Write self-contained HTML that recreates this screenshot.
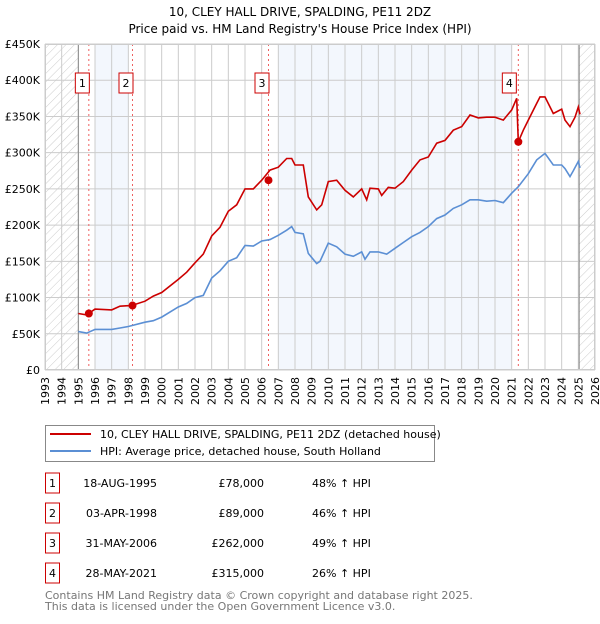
<!DOCTYPE html>
<html><head><meta charset="utf-8"><style>
body{margin:0;background:#fff;font-family:"DejaVu Sans","Liberation Sans",sans-serif;}
svg text{font-family:"DejaVu Sans","Liberation Sans",sans-serif;}
</style></head><body>
<svg id="c" width="600" height="620" xmlns="http://www.w3.org/2000/svg">
<defs><pattern id="hatch" width="6" height="6" patternUnits="userSpaceOnUse" patternTransform="rotate(45)"><line x1="0" y1="0" x2="0" y2="6" stroke="#ccc" stroke-width="1"/></pattern></defs>
<text x="300" y="16" text-anchor="middle" font-size="12">10, CLEY HALL DRIVE, SPALDING, PE11 2DZ</text>
<text x="300" y="33" text-anchor="middle" font-size="12">Price paid vs. HM Land Registry's House Price Index (HPI)</text>
<g id="plot"></g>
<g>
<rect x="45.5" y="425.5" width="389" height="36" fill="#fff" stroke="#888"/>
<line x1="50" y1="434" x2="91" y2="434" stroke="#cc0000" stroke-width="2"/>
<text x="100" y="438" font-size="11">10, CLEY HALL DRIVE, SPALDING, PE11 2DZ (detached house)</text>
<line x1="50" y1="451" x2="91" y2="451" stroke="#5b8fd4" stroke-width="2"/>
<text x="100" y="455" font-size="11">HPI: Average price, detached house, South Holland</text>
</g>
<g id="table" font-size="11"></g>
<text x="45" y="599" font-size="11" fill="#777">Contains HM Land Registry data © Crown copyright and database right 2025.</text>
<text x="45" y="610" font-size="11" fill="#777">This data is licensed under the Open Government Licence v3.0.</text>
</svg>
<script>
const years=[1993,1994,1995,1996,1997,1998,1999,2000,2001,2002,2003,2004,2005,2006,2007,2008,2009,2010,2011,2012,2013,2014,2015,2016,2017,2018,2019,2020,2021,2022,2023,2024,2025,2026];
const yTicks=[0,50,100,150,200,250,300,350,400,450];
const yTickLabels=["£0","£50K","£100K","£150K","£200K","£250K","£300K","£350K","£400K","£450K"];
const hpiT=[1995.0,1995.5,1996,1997,1997.5,1998,1999,1999.5,2000,2001,2001.5,2002,2002.5,2003,2003.5,2004,2004.5,2005,2005.5,2006,2006.5,2007,2007.5,2007.8,2008,2008.5,2008.8,2009.3,2009.5,2010,2010.5,2011,2011.5,2012,2012.2,2012.5,2013,2013.5,2014,2014.5,2015,2015.5,2016,2016.5,2017,2017.5,2018,2018.5,2019,2019.5,2020,2020.5,2021,2021.4,2022,2022.5,2023,2023.5,2024,2024.2,2024.5,2024.7,2025,2025.1];
const hpiV=[53,51,56,56,58,60,66,68,73,87,92,100,103,127,137,150,155,172,171,178,180,186,193,198,190,188,161,147,150,175,170,160,157,163,153,163,163,160,168,176,184,190,198,209,214,223,228,235,235,233,234,231,244,253,271,290,299,283,283,278,267,275,288,279];
const ppT=[1995.0,1995.5,1996,1997,1997.5,1998.2,1999,1999.5,2000,2001,2001.5,2002,2002.5,2003,2003.5,2004,2004.5,2005,2005.5,2006,2006.5,2007,2007.5,2007.8,2008,2008.5,2008.8,2009.3,2009.6,2010,2010.5,2011,2011.5,2012,2012.3,2012.5,2013,2013.2,2013.6,2014,2014.5,2015,2015.5,2016,2016.5,2017,2017.5,2018,2018.5,2019,2019.5,2020,2020.5,2021,2021.3,2021.4,2021.7,2022,2022.5,2022.7,2023,2023.5,2024,2024.2,2024.5,2024.8,2025,2025.1];
const ppV=[78,76,84,83,88,89,95,102,107,125,135,148,160,185,197,219,228,250,250,262,276,280,292,292,283,283,239,221,228,260,262,248,239,250,235,251,250,241,252,251,260,276,290,294,313,317,331,336,352,348,349,349,345,359,375,315,331,345,368,377,377,354,360,345,336,349,363,353];
const saleLabels=["1","2","3","4"];
const saleT=[1995.63,1998.25,2006.41,2021.4];
const saleV=[78,89,262,315];
const saleDates=["18-AUG-1995","03-APR-1998","31-MAY-2006","28-MAY-2021"];
const salePrices=["£78,000","£89,000","£262,000","£315,000"];
const salePct=["48% ↑ HPI","46% ↑ HPI","49% ↑ HPI","26% ↑ HPI"];
const L=45,R=595,T=44,B=370;
const xs=t=>L+(t-1993)/(2026-1993)*(R-L);
const ys=v=>B-v/450*(B-T);
const NS="http://www.w3.org/2000/svg";
const g=document.getElementById('plot');
function mk(tag,attrs,parent){const e=document.createElementNS(NS,tag);for(const k in attrs)e.setAttribute(k,attrs[k]);(parent||g).appendChild(e);return e;}
// shaded bands
let e=mk('rect',{x:xs(1996),y:T,width:xs(1998)-xs(1996),height:B-T,fill:'#eef3fc',opacity:0.7});


e=mk('rect',{x:xs(2007),y:T,width:xs(2021)-xs(2007),height:B-T,fill:'#eef3fc',opacity:0.7});


// hatch
e=mk('rect',{x:L,y:T,width:xs(1995)-L,height:B-T,fill:'url(#hatch)'});


e=mk('rect',{x:xs(2025.05),y:T,width:R-xs(2025.05),height:B-T,fill:'url(#hatch)'});


// grid
years.forEach(y=>{const l=mk('line',{x1:xs(y),x2:xs(y),y1:T,y2:B,stroke:'#ccc','stroke-width':1});


const t=mk('text',{x:0,y:0,'font-size':11,'text-anchor':'end',transform:`translate(${xs(y)+4},${B+7}) rotate(-90)`});t.textContent=y;

});
yTicks.forEach((v,i)=>{const l=mk('line',{x1:L,x2:R,y1:ys(v),y2:ys(v),stroke:'#ccc','stroke-width':1});


const t=mk('text',{x:40,y:ys(v)+4,'font-size':11,'text-anchor':'end'});t.textContent=yTickLabels[i];

});
e=mk('line',{x1:xs(1995),x2:xs(1995),y1:T,y2:B,stroke:'#888'});


e=mk('line',{x1:xs(2025.05),x2:xs(2025.05),y1:T,y2:B,stroke:'#888'});


// sale vertical lines
saleT.forEach((t,i)=>{const l=mk('line',{x1:xs(t),x2:xs(t),y1:T,y2:B,stroke:'#f06060','stroke-dasharray':'2,3'});

});
// series
const pts=(T_,V_)=>T_.map((t,i)=>xs(t).toFixed(1)+','+ys(V_[i]).toFixed(1)).join(' ');
e=mk('polyline',{points:pts(hpiT,hpiV),fill:'none',stroke:'#5b8fd4','stroke-width':1.6});


e=mk('polyline',{points:pts(ppT,ppV),fill:'none',stroke:'#cc0000','stroke-width':1.6});


saleT.forEach((t,i)=>{const c=mk('circle',{cx:xs(t),cy:ys(saleV[i]),r:4,fill:'#cc0000'});


const x0=(i===3)?xs(t)-10:xs(t)-7.5;
const r=mk('rect',{x:x0-6,y:73,width:14,height:20,fill:'#fff',stroke:'#cc0000'});


const tx=mk('text',{x:x0+1,y:87,'font-size':11,'text-anchor':'middle'});tx.textContent=saleLabels[i];

});
e=mk('rect',{x:L+0.5,y:T+0.5,width:R-L-1,height:B-T-1,fill:'none',stroke:'#ccc'});


// table
const tb=document.getElementById('table');
const rowY=[483,513,543,573];
saleLabels.forEach((s,i)=>{const cy=rowY[i];
const r=mk('rect',{x:45.5,y:cy-10,width:14,height:20,fill:'#fff',stroke:'#cc0000'},tb);


const a=mk('text',{x:52.5,y:cy+4,'text-anchor':'middle'},tb);a.textContent=s;


const d=mk('text',{x:157,y:cy+4,'text-anchor':'end'},tb);d.textContent=saleDates[i];


const p=mk('text',{x:264,y:cy+4,'text-anchor':'end'},tb);p.textContent=salePrices[i];


const q=mk('text',{x:312,y:cy+4},tb);q.textContent=salePct[i];

});
</script>
</body></html>
